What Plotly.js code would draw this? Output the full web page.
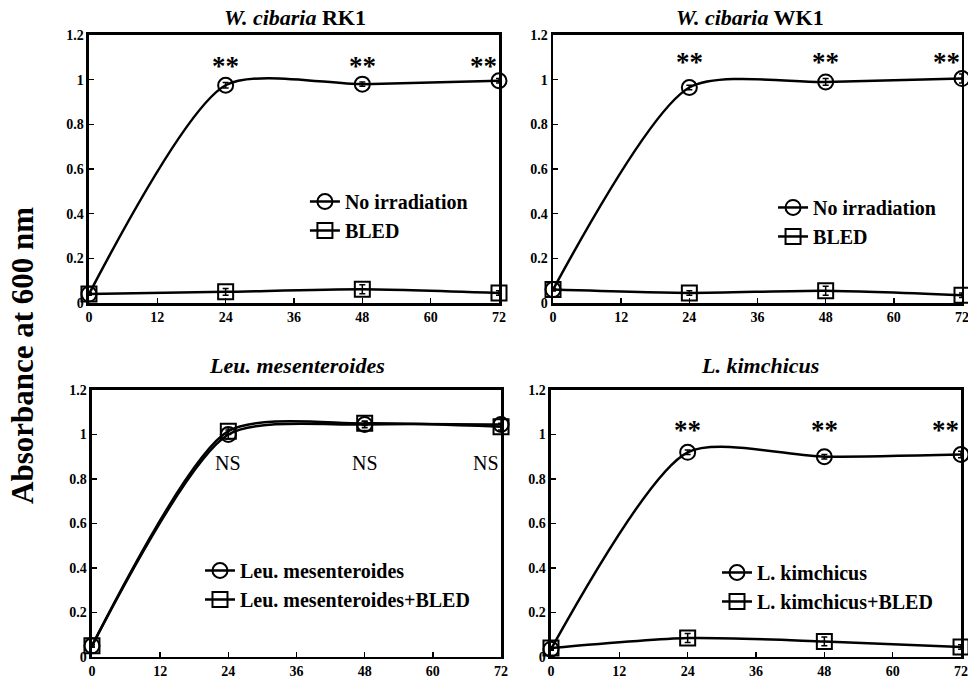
<!DOCTYPE html>
<html>
<head>
<meta charset="utf-8">
<script src="https://cdn.plot.ly/plotly-3.0.1.min.js"></script>
<style>html,body{margin:0;padding:0;background:#fff;}#chart{width:968px;height:686px;}</style>
</head>
<body>
<div id="chart"></div>
<script>
// ---- data ----
var hours = [0, 24, 48, 72];
var xTicks = [0, 12, 24, 36, 48, 60, 72];
var yTicks = [0, 0.2, 0.4, 0.6, 0.8, 1, 1.2];
var yTickLabels = ["0", "0.2", "0.4", "0.6", "0.8", "1", "1.2"];

var panelTitles = ["<i>W. cibaria</i> RK1", "<i>W. cibaria</i> WK1", "<i>Leu. mesenteroides</i>", "<i>L. kimchicus</i>"];
var seriesNames = [
  ["No irradiation", "BLED"],
  ["No irradiation", "BLED"],
  ["Leu. mesenteroides", "Leu. mesenteroides+BLED"],
  ["L. kimchicus", "L. kimchicus+BLED"]
];

var rk1Dark = [0.04, 0.975, 0.98, 0.995];
var rk1DarkErr = [0.005, 0.012, 0.01, 0.01];
var rk1Bled = [0.04, 0.05, 0.062, 0.045];
var rk1BledErr = [0.005, 0.015, 0.02, 0.01];

var wk1Dark = [0.06, 0.965, 0.99, 1.005];
var wk1DarkErr = [0.005, 0.01, 0.015, 0.02];
var wk1Bled = [0.06, 0.045, 0.055, 0.035];
var wk1BledErr = [0.005, 0.01, 0.02, 0.01];

var leuDark = [0.05, 1.0, 1.045, 1.045];
var leuDarkErr = [0.005, 0.02, 0.015, 0.03];
var leuBled = [0.05, 1.015, 1.05, 1.035];
var leuBledErr = [0.005, 0.015, 0.01, 0.015];

var lkDark = [0.035, 0.92, 0.9, 0.91];
var lkDarkErr = [0.005, 0.01, 0.01, 0.015];
var lkBled = [0.04, 0.085, 0.07, 0.045];
var lkBledErr = [0.005, 0.02, 0.02, 0.01];

var sigLabels = [["**", "**", "**"], ["**", "**", "**"], ["NS", "NS", "NS"], ["**", "**", "**"]];
var sigY = [[1.06, 1.06, 1.06], [1.08, 1.08, 1.08], [0.87, 0.87, 0.87], [1.02, 1.02, 1.02]];
var sigX = [24, 48, 72];

// ---- build ----
var darkVals = [rk1Dark, wk1Dark, leuDark, lkDark];
var darkErrs = [rk1DarkErr, wk1DarkErr, leuDarkErr, lkDarkErr];
var bledVals = [rk1Bled, wk1Bled, leuBled, lkBled];
var bledErrs = [rk1BledErr, wk1BledErr, leuBledErr, lkBledErr];

var serif = "Liberation Serif, Times New Roman, serif";
var smooth = 0.7;
var traces = [];
for (var p = 0; p < 4; p++) {
  var xa = p === 0 ? "x" : "x" + (p + 1);
  var ya = p === 0 ? "y" : "y" + (p + 1);
  var lg = p === 0 ? "legend" : "legend" + (p + 1);
  traces.push({
    x: hours, y: darkVals[p], xaxis: xa, yaxis: ya, legend: lg,
    name: seriesNames[p][0], legendgroup: "a" + p, type: "scatter", mode: "lines+markers",
    line: {color: "#000", width: 2.5, shape: "spline", smoothing: smooth},
    marker: {symbol: "circle-open", size: 15, color: "#000", line: {width: 2, color: "#000"}},
    error_y: {type: "data", array: darkErrs[p], visible: true, color: "#000", thickness: 1.5, width: 3},
    cliponaxis: false
  });
  traces.push({
    x: hours, y: bledVals[p], xaxis: xa, yaxis: ya, legend: lg,
    name: seriesNames[p][1], legendgroup: "b" + p, type: "scatter", mode: "lines+markers",
    line: {color: "#000", width: 2.5, shape: "spline", smoothing: smooth},
    marker: {symbol: "square-open", size: 15, color: "#000", line: {width: 2, color: "#000"}},
    error_y: {type: "data", array: bledErrs[p], visible: true, color: "#000", thickness: 1.5, width: 3},
    cliponaxis: false
  });
}

var xDomains = [[0.0919, 0.5155], [0.5713, 0.9938], [0.0950, 0.5176], [0.5692, 0.9928]];
var yDomains = [[0.5583, 0.949], [0.5583, 0.949], [0.0423, 0.4315], [0.0423, 0.4315]];
var titleX = [295 / 968, 750 / 968, 297 / 968, 760 / 968];
var titleY = [0.975, 0.975, 0.4665, 0.4665];
var legendPos = [[0.315, 0.7347], [0.7986, 0.726], [0.2066, 0.1968], [0.7407, 0.1939]];

var layout = {
  width: 968, height: 686,
  margin: {l: 0, r: 0, t: 0, b: 0},
  paper_bgcolor: "#fff", plot_bgcolor: "#fff",
  font: {family: serif, color: "#000"},
  annotations: [],
  showlegend: true
};

for (var q = 0; q < 4; q++) {
  var sx = q === 0 ? "" : String(q + 1);
  layout["xaxis" + sx] = {
    domain: xDomains[q], anchor: "y" + sx, range: [0, 72],
    tickmode: "array", tickvals: xTicks, ticktext: xTicks.map(String),
    ticks: "inside", ticklen: 5, tickwidth: 1.5, tickcolor: "#000",
    showline: true, linecolor: "#000", linewidth: 2.5, mirror: true,
    showgrid: false, zeroline: false, ticklabeloverflow: "allow",
    tickfont: {family: serif, size: 14, weight: "bold", color: "#000"}
  };
  layout["yaxis" + sx] = {
    domain: yDomains[q], anchor: "x" + sx, range: [0, 1.2],
    tickmode: "array", tickvals: yTicks, ticktext: yTickLabels,
    ticks: "inside", ticklen: 5, tickwidth: 1.5, tickcolor: "#000",
    showline: true, linecolor: "#000", linewidth: 2.5, mirror: true,
    showgrid: false, zeroline: false, ticklabeloverflow: "allow",
    tickfont: {family: serif, size: 14, weight: "bold", color: "#000"}
  };
  var lgKey = q === 0 ? "legend" : "legend" + (q + 1);
  layout[lgKey] = {
    x: legendPos[q][0], y: legendPos[q][1], xanchor: "left", yanchor: "top",
    xref: "paper", yref: "paper",
    bgcolor: "rgba(0,0,0,0)", borderwidth: 0, tracegroupgap: 0,
    font: {family: serif, size: 20, weight: "bold", color: "#000"},
    itemclick: false, itemdoubleclick: false
  };
  layout.annotations.push({
    xref: "paper", yref: "paper",
    x: titleX[q], y: titleY[q],
    xanchor: "center", yanchor: "middle", showarrow: false,
    text: "<b>" + panelTitles[q] + "</b>",
    font: {family: serif, size: 22, color: "#000"}
  });
  for (var k = 0; k < 3; k++) {
    var isNS = sigLabels[q][k] === "NS";
    layout.annotations.push({
      xref: "x" + sx, yref: "y" + sx,
      x: sigX[k], y: sigY[q][k],
      xanchor: sigX[k] === 72 ? "right" : "center", yanchor: "middle",
      showarrow: false, text: isNS ? sigLabels[q][k] : "<b>" + sigLabels[q][k] + "</b>",
      font: {family: serif, size: isNS ? 20 : 27, color: "#000"}
    });
  }
}

layout.annotations.push({
  xref: "paper", yref: "paper", x: 22 / 968, y: 1 - 356 / 686,
  xanchor: "center", yanchor: "middle", showarrow: false, textangle: -90,
  text: "<b>Absorbance at 600 nm</b>",
  font: {family: serif, size: 31, color: "#000"}
});

Plotly.newPlot("chart", traces, layout, {displayModeBar: false, staticPlot: true});
</script>
</body>
</html>
